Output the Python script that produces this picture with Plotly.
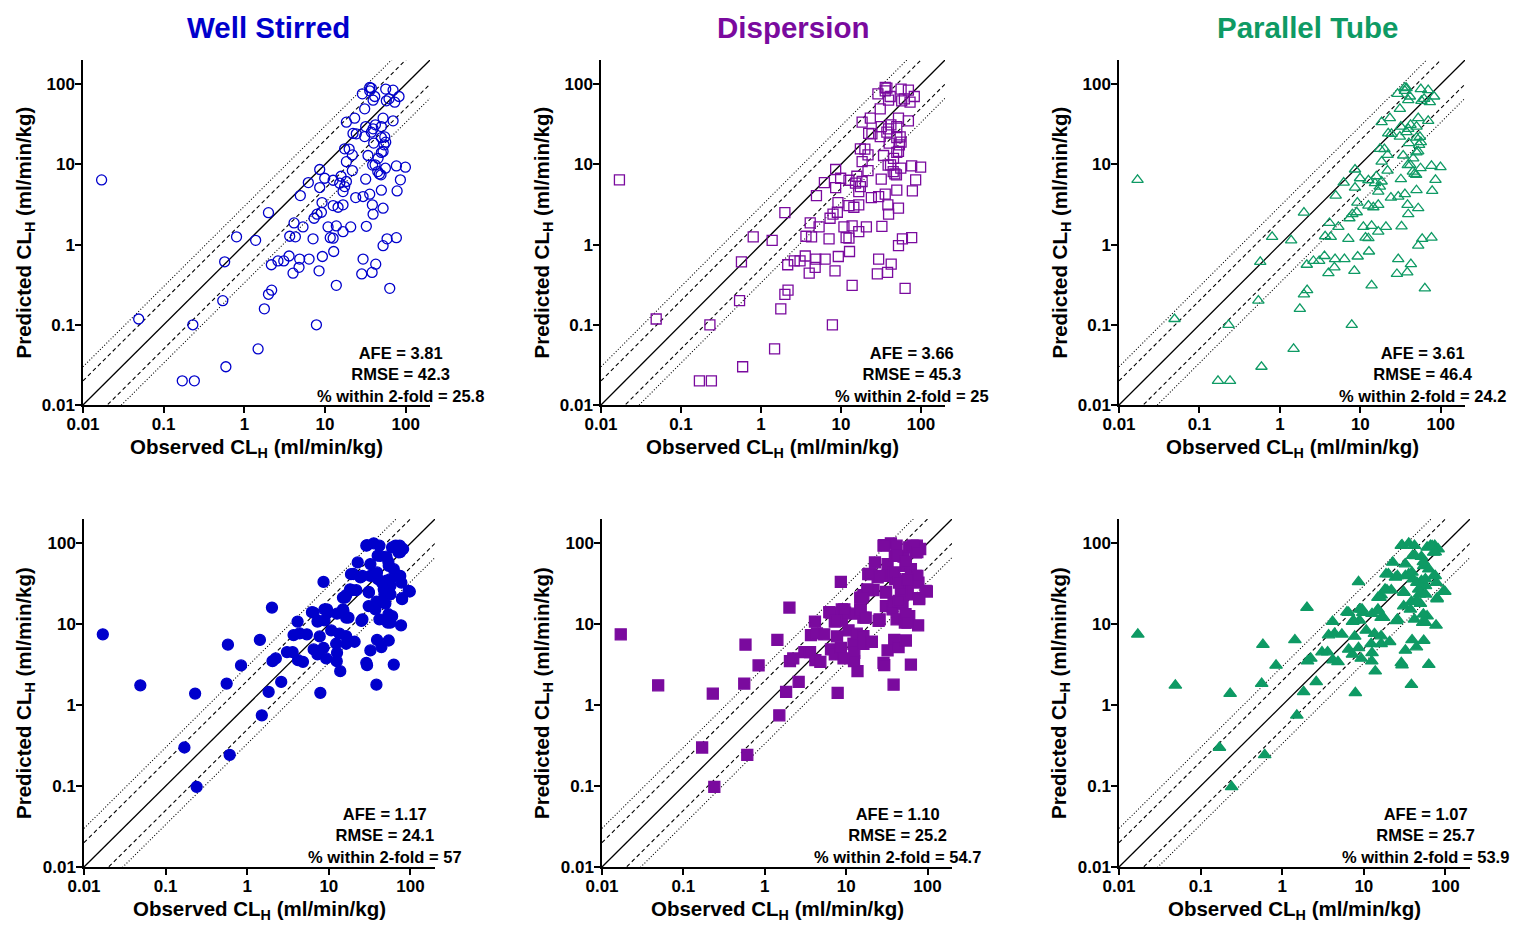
import plotly.graph_objects as go

# ---- observed vs predicted hepatic clearance (ml/min/kg) ----
# unbound model predictions (open symbols, top row)
obs_top = [0.017, 0.049, 0.23, 0.17, 0.24, 0.59, 0.54, 0.57, 0.80, 1.38,
           1.99, 1.48, 1.77, 1.99, 2.18, 2.16, 2.61, 3.08, 3.58, 4.01,
           4.76, 4.85, 6.34, 8.43, 9.27, 7.82, 3.65, 4.29, 4.13, 5.33,
           7.10, 7.31, 7.96, 9.02, 9.18, 4.94, 6.21, 8.59, 9.91, 8.59,
           10.9, 11.6, 12.6, 13.8, 16.7, 20.8, 12.8, 13.8, 12.6, 14.5,
           16.7, 12.6, 15.8, 15.2, 17.5, 16.7, 18.4, 21.8, 18.4, 21.8,
           17.5, 19.9, 24.0, 29.6, 35.8, 38.6, 39.4, 32.5, 31.9, 29.6,
           28.5, 38.3, 42.5, 52.4, 58.7, 76.6, 63.4, 49.9, 52.4, 41.7,
           38.9, 45.0, 47.2, 49.4, 56.0, 76.6, 99.1, 85.9, 78.2, 34.1,
           45.4, 49.9, 52.4, 53.8, 56.5, 49.9, 55.0, 40.1, 31.0, 24.4,
           22.2, 31.9, 37.5, 42.1, 39.4, 49.9, 52.4, 69.7, 18.4, 23.3,
           31.0, 29.0, 35.8, 35.8, 37.5, 41.3, 39.4, 56.5, 69.7, 57.5,
           73.1, 82.6, 62.1]
pred_top = [6.4, 0.118, 0.10, 0.020, 0.020, 0.030, 0.20, 0.61, 1.25, 1.13,
            2.5, 0.050, 0.158, 0.24, 0.27, 0.56, 0.625, 0.625, 0.72, 0.44,
            0.52, 0.66, 0.66, 0.47, 0.71, 0.10, 1.27, 1.25, 1.86, 1.66,
            1.18, 2.13, 2.39, 2.53, 3.34, 4.08, 5.93, 8.63, 6.71, 5.14,
            1.66, 1.22, 1.20, 1.71, 1.45, 1.66, 0.82, 0.31, 3.06, 2.92,
            3.13, 6.34, 7.11, 5.82, 5.28, 4.58, 6.11, 8.37, 10.8, 13.1,
            15.6, 15.5, 3.85, 3.97, 4.25, 3.13, 2.39, 1.69, 6.53, 0.66,
            0.43, 0.45, 0.57, 0.97, 1.18, 1.22, 0.285, 4.76, 2.84, 9.86,
            9.8, 8.13, 7.60, 7.40, 8.95, 9.57, 9.23, 6.41, 4.67, 12.9,
            11.9, 14.1, 14.5, 17.5, 18.9, 21.6, 22.0, 18.4, 22.2, 24.0,
            24.3, 29.6, 25.2, 31.1, 27.7, 29.6, 37.7, 34.9, 33.6, 37.7,
            49.2, 75.7, 90.8, 82.6, 89.1, 70.1, 63.1, 86.7, 84.1, 61.9,
            59.6, 70.1, 65.6]

# empirically scaled predictions (filled symbols, bottom row)
obs_bot = [0.017, 0.049, 0.23, 0.17, 0.24, 0.61, 0.56, 0.58, 0.84, 1.51,
           1.43, 2.01, 1.83, 2.61, 2.04, 2.24, 3.07, 3.60, 4.19, 4.82,
           3.70, 4.38, 5.38, 4.14, 6.21, 6.52, 7.26, 8.61, 9.29, 7.87,
           7.73, 7.26, 8.85, 8.85, 9.72, 8.61, 10.7, 12.3, 12.6, 12.5,
           13.8, 13.5, 16.3, 16.3, 20.7, 12.6, 14.9, 16.3, 14.9, 16.3,
           19.2, 21.7, 25.1, 18.7, 22.6, 24.4, 30.8, 32.3, 28.8, 35.5,
           41.7, 39.7, 32.3, 35.5, 40.1, 30.8, 37.2, 38.3, 32.3, 28.8,
           29.4, 38.3, 39.0, 44.1, 41.7, 48.0, 49.3, 54.2, 62.5, 52.7,
           59.6, 76.7, 50.8, 56.9, 56.9, 47.1, 54.2, 62.5, 50.8, 59.6,
           65.5, 74.0, 81.3, 71.9, 77.4, 98.2, 78.9, 71.9,
           29.4, 68.7, 75.0, 42.7, 53.7, 20.0, 25.8, 38.9, 75.0, 44.7,
           56.8, 95.0, 79.0, 44.7, 18.2, 15.8, 31.0, 53.7, 56.8, 25.8,
           15.1, 9.5, 6.5, 7.5, 17.4]
pred_bot = [7.5, 1.76, 1.39, 0.30, 0.098, 0.243, 1.85, 5.6, 3.1, 0.75,
            6.4, 16.1, 1.46, 1.94, 3.5, 3.78, 4.53, 4.53, 3.6, 3.43,
            7.36, 7.7, 7.5, 10.8, 14.1, 4.89, 4.24, 5.12, 3.78, 1.42,
            7.08, 10.8, 11.2, 15.3, 13.9, 33.4, 8.4, 5.74, 4.44, 3.5,
            2.63, 7.64, 7.14, 5.74, 6.08, 13.5, 15.3, 12.1, 21.4, 22.9,
            26.4, 26.4, 11.0, 41.6, 58.1, 37.9, 25.1, 55.4, 93.6, 100.0,
            93.6, 70.4, 39.7, 41.6, 36.1, 16.8, 15.3, 19.1, 4.75, 3.34,
            3.12, 1.79, 6.4, 5.22, 11.5, 23.5, 18.0, 6.3, 3.18, 10.5,
            12.6, 9.7, 34.5, 29.9, 23.5, 27.1, 52.8, 48.0, 68.4, 89.1,
            93.6, 93.6, 85.1, 39.7, 32.8, 25.4, 21.0, 77.3,
            95.0, 93.0, 78.0, 70.0, 59.0, 41.8, 39.6, 43.7, 39.6, 32.8,
            36.1, 25.8, 20.4, 19.4, 27.0, 21.4, 24.7, 13.3, 10.5, 11.5,
            14.6, 15.3, 13.9, 11.0, 12.1]

models = ["Well Stirred", "Dispersion", "Parallel Tube"]
colors = ["#0000CC", "#7A0A9E", "#0E9A64"]
symbols = ["circle", "square", "triangle-up"]

stats_top = [("3.81", "42.3", "25.8"), ("3.66", "45.3", "25"), ("3.61", "46.4", "24.2")]
stats_bot = [("1.17", "24.1", "57"), ("1.10", "25.2", "54.7"), ("1.07", "25.7", "53.9")]

tick_vals = [0.01, 0.1, 1, 10, 100]
tick_text = ["<b>0.01</b>", "<b>0.1</b>", "<b>1</b>", "<b>10</b>", "<b>100</b>"]
line_x = [0.01, 200]
# line of unity, 2-fold (dashed) and 3-fold (dotted) bounds
fold_lines = [(1, "solid", 1.3), (2, "4px,3px", 1.1), (0.5, "4px,3px", 1.1),
              (3, "1px,2px", 1.1), (1 / 3, "1px,2px", 1.1)]

W, H = 1516, 925
# plot-area pixel boxes (left, right) per column and (top, bottom) per row
cols_top = [(83, 430), (601, 945), (1119, 1465)]
cols_bot = [(84, 435), (602, 952), (1119, 1470)]
rows = [(60, 405), (519, 867)]

font = "Liberation Sans, Arial, sans-serif"
fig = go.Figure()
annotations = []


def note(px, py, text, size, color="black", angle=0):
    return dict(x=px / W, y=1 - py / H, xref="paper", yref="paper",
                xanchor="center", yanchor="middle", showarrow=False,
                align="center", textangle=angle, text=text,
                font=dict(family=font, size=size, color=color))


for r in range(2):
    cols = cols_top if r == 0 else cols_bot
    obs = obs_top if r == 0 else obs_bot
    pred = pred_top if r == 0 else pred_bot
    stats = stats_top if r == 0 else stats_bot
    top, bot = rows[r]
    for c in range(3):
        idx = r * 3 + c + 1
        xa = "x" if idx == 1 else f"x{idx}"
        ya = "y" if idx == 1 else f"y{idx}"
        left, right = cols[c]
        for k, dash, w in fold_lines:
            fig.add_trace(go.Scatter(
                x=line_x, y=[v * k for v in line_x], mode="lines",
                line=dict(color="black", width=w, dash=dash),
                xaxis=xa, yaxis=ya, showlegend=False, hoverinfo="skip"))
        sym = symbols[c] + ("-open" if r == 0 else "")
        fig.add_trace(go.Scatter(
            x=obs, y=pred, mode="markers",
            marker=dict(symbol=sym, size=10 if r == 0 else 11, color=colors[c],
                        line=dict(width=1.3, color=colors[c])),
            xaxis=xa, yaxis=ya, showlegend=False, cliponaxis=False))
        axis_common = dict(
            type="log", range=[-2, 2.301], tickvals=tick_vals, ticktext=tick_text,
            showgrid=False, zeroline=False, showline=True, linecolor="black",
            linewidth=1.5, ticks="outside", ticklen=6, tickwidth=1.5,
            tickcolor="black", ticklabelstandoff=-3,
            tickfont=dict(family=font, size=17, color="black"))
        fig.update_layout({
            ("xaxis" if idx == 1 else f"xaxis{idx}"): dict(
                axis_common, domain=[left / W, right / W], anchor=ya),
            ("yaxis" if idx == 1 else f"yaxis{idx}"): dict(
                axis_common, domain=[1 - bot / H, 1 - top / H], anchor=xa),
        })
        # axis titles
        annotations.append(note((left + right) / 2, bot + 43,
                                "<b>Observed CL<sub>H</sub> (ml/min/kg)</b>", 20.5))
        annotations.append(note(left - 59, (top + bot) / 2,
                                "<b>Predicted CL<sub>H</sub> (ml/min/kg)</b>", 20.5,
                                angle=-90))
        # statistics block
        afe, rmse, pct = stats[c]
        cx = [400, 912, 1422][c] if r == 0 else [385, 897, 1425][c]
        cy = 374 if r == 0 else 835
        annotations.append(note(
            cx, cy,
            f"<b>AFE = {afe}<br>RMSE = {rmse}<br>% within 2-fold = {pct}</b>",
            16.5))

# model titles
for c, name in enumerate(models):
    annotations.append(note([268, 793, 1307][c], 27, f"<b>{name}</b>", 29.5,
                            color=colors[c]))

fig.update_layout(
    width=W, height=H, margin=dict(l=0, r=0, t=0, b=0, autoexpand=False),
    paper_bgcolor="white", plot_bgcolor="white",
    annotations=annotations)

fig.write_html("out.html")
